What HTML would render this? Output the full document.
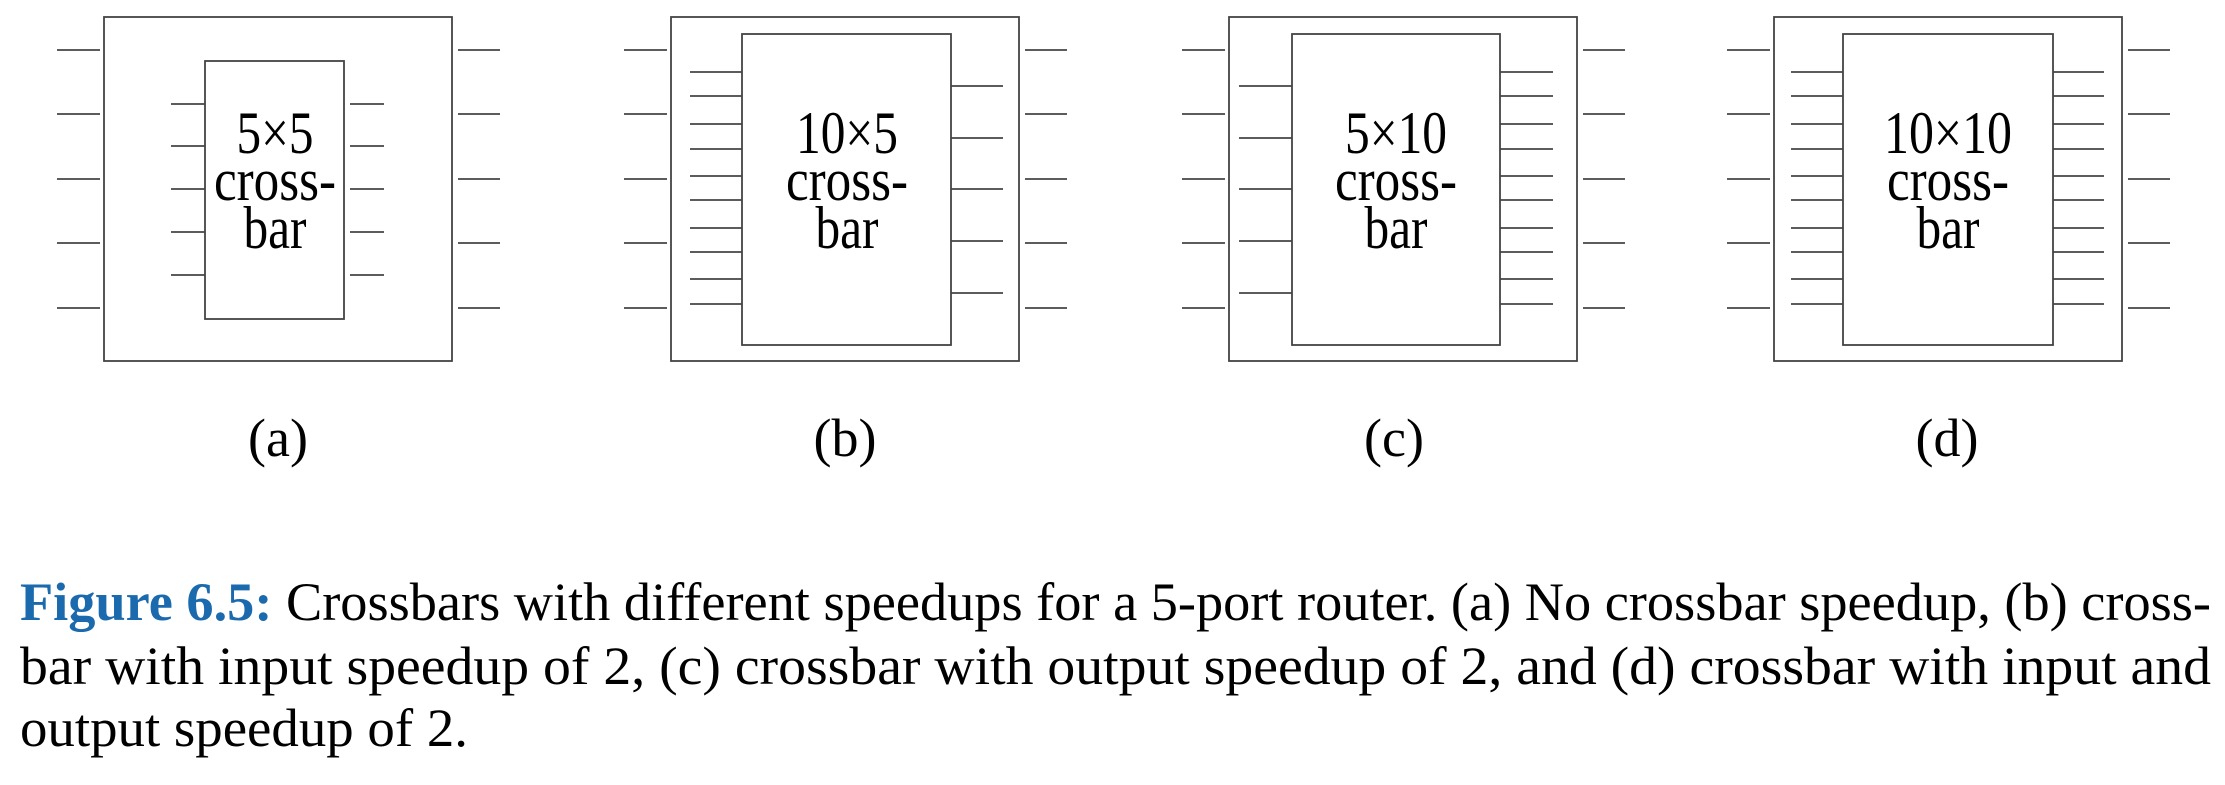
<!DOCTYPE html>
<html><head><meta charset="utf-8"><style>
html,body{margin:0;padding:0;background:#fff;}
svg{display:block}
</style></head><body>
<svg width="2225" height="785" viewBox="0 0 2225 785" xmlns="http://www.w3.org/2000/svg">
<g id="lines" stroke="#444" stroke-width="1.8" fill="none"></g>
<g font-family="Liberation Serif, serif" font-size="60" fill="#000" text-anchor="middle">
<text x="275" y="153" textLength="77" lengthAdjust="spacingAndGlyphs">5×5</text>
<text x="275" y="200" textLength="122" lengthAdjust="spacingAndGlyphs">cross-</text>
<text x="275" y="248" textLength="63" lengthAdjust="spacingAndGlyphs">bar</text>
<text x="847" y="153" textLength="102" lengthAdjust="spacingAndGlyphs">10×5</text>
<text x="847" y="200" textLength="122" lengthAdjust="spacingAndGlyphs">cross-</text>
<text x="847" y="248" textLength="63" lengthAdjust="spacingAndGlyphs">bar</text>
<text x="1396" y="153" textLength="102" lengthAdjust="spacingAndGlyphs">5×10</text>
<text x="1396" y="200" textLength="122" lengthAdjust="spacingAndGlyphs">cross-</text>
<text x="1396" y="248" textLength="63" lengthAdjust="spacingAndGlyphs">bar</text>
<text x="1948" y="153" textLength="128" lengthAdjust="spacingAndGlyphs">10×10</text>
<text x="1948" y="200" textLength="122" lengthAdjust="spacingAndGlyphs">cross-</text>
<text x="1948" y="248" textLength="63" lengthAdjust="spacingAndGlyphs">bar</text>
</g>
<g font-family="Liberation Serif, serif" font-size="54" fill="#000" text-anchor="middle">
<text x="278" y="456">(a)</text>
<text x="845" y="456">(b)</text>
<text x="1394" y="456">(c)</text>
<text x="1947" y="456">(d)</text>
</g>
<g font-family="Liberation Serif, serif" font-size="54" fill="#000">
<text x="20" y="620" textLength="2191" lengthAdjust="spacingAndGlyphs"><tspan fill="#1a6aad" font-weight="bold">Figure 6.5:</tspan>  Crossbars with different speedups for a 5-port router. (a) No crossbar speedup, (b) cross-</text>
<text x="20" y="684" textLength="2191" lengthAdjust="spacingAndGlyphs">bar with input speedup of 2, (c) crossbar with output speedup of 2, and (d) crossbar with input and</text>
<text x="20" y="746" textLength="448" lengthAdjust="spacingAndGlyphs">output speedup of 2.</text>
</g>
<script>
(function(){
var g=document.getElementById('lines');
function L(x1,y1,x2,y2){var l=document.createElementNS('http://www.w3.org/2000/svg','line');l.setAttribute('x1',x1);l.setAttribute('y1',y1);l.setAttribute('x2',x2);l.setAttribute('y2',y2);g.appendChild(l);}
function R(x1,y1,x2,y2){var r=document.createElementNS('http://www.w3.org/2000/svg','rect');r.setAttribute('x',x1);r.setAttribute('y',y1);r.setAttribute('width',x2-x1);r.setAttribute('height',y2-y1);g.appendChild(r);}
var outerY=[50,114,179,243,308];
var ten=[72,96,124,149,176,200,228,252,279,304];
var five=[86,138,189,241,293];
var fiveA=[104,146,189,232,275];
var P=[
 {L:104,ix1:205,ix2:344,iy1:61,iy2:319,lp:[171,205],rp:[350,384],ly:fiveA,ry:fiveA},
 {L:671,ix1:742,ix2:951,iy1:34,iy2:345,lp:[690,742],rp:[951,1003],ly:ten,ry:five},
 {L:1229,ix1:1292,ix2:1500,iy1:34,iy2:345,lp:[1239,1292],rp:[1500,1553],ly:five,ry:ten},
 {L:1774,ix1:1843,ix2:2053,iy1:34,iy2:345,lp:[1791,1843],rp:[2053,2104],ly:ten,ry:ten}
];
P.forEach(function(p){
 R(p.L,17,p.L+348,361);
 outerY.forEach(function(y){L(p.L-47,y,p.L-4,y);L(p.L+354,y,p.L+396,y);});
 R(p.ix1,p.iy1,p.ix2,p.iy2);
 p.ly.forEach(function(y){L(p.lp[0],y,p.lp[1],y);});
 p.ry.forEach(function(y){L(p.rp[0],y,p.rp[1],y);});
});
})();
</script>
</svg>
</body></html>
